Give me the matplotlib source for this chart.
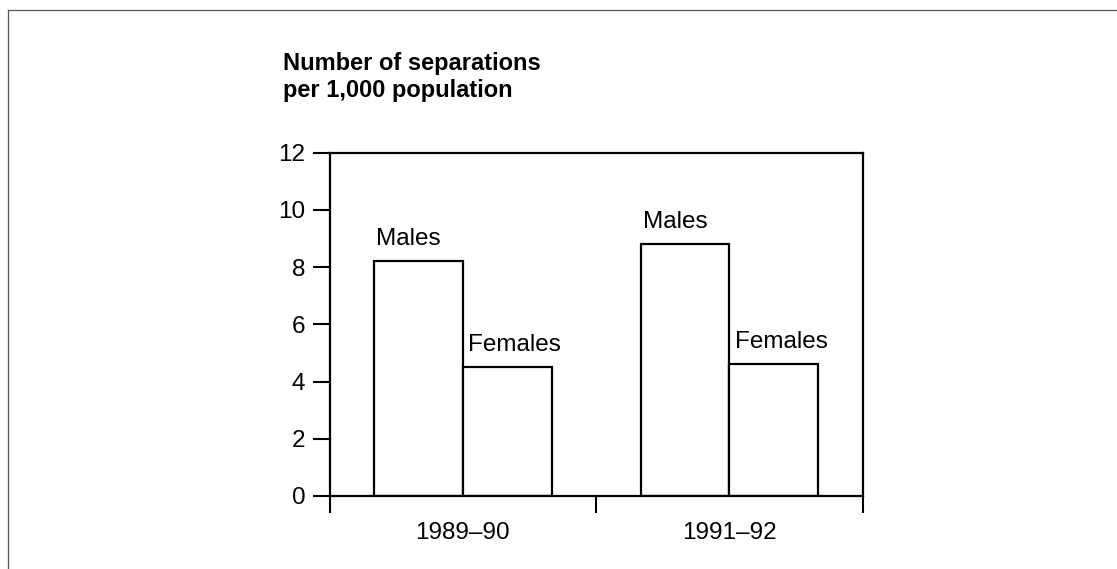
import matplotlib.pyplot as plt
from matplotlib.lines import Line2D

plt.rcParams["font.family"] = ["Liberation Sans", "DejaVu Sans"]

periods = ["1989–90", "1991–92"]
males = [8.2, 8.8]
females = [4.5, 4.6]

fig = plt.figure(figsize=(11.17, 5.69), dpi=100)
ax = fig.add_axes([0.295, 0.1283, 0.4773, 0.6033])

w = 1 / 3
for i, (m, f) in enumerate(zip(males, females)):
    ax.bar(i + 0.5 - w / 2, m, width=w, facecolor="white", edgecolor="black", linewidth=1.6)
    ax.bar(i + 0.5 + w / 2, f, width=w, facecolor="white", edgecolor="black", linewidth=1.6)
    ax.annotate("Males", xy=(i + 0.5 - w, m), xytext=(1.5, 12), textcoords="offset points",
                ha="left", va="baseline", fontsize=17.5)
    ax.annotate("Females", xy=(i + 0.5, f), xytext=(4, 12), textcoords="offset points",
                ha="left", va="baseline", fontsize=17.5)

ax.set_xlim(0, 2)
ax.set_ylim(0, 12)
ax.set_yticks(range(0, 13, 2))
ax.set_xticks([0, 1, 2])
ax.set_xticklabels([])
ax.set_xticks([0.5, 1.5], minor=True)
ax.set_xticklabels(periods, minor=True)

ax.tick_params(axis="y", direction="out", length=12.5, width=1.5, labelsize=17.5, pad=5)
ax.tick_params(axis="x", which="major", direction="out", length=12.5, width=1.5)
ax.tick_params(axis="x", which="minor", length=0, labelsize=17.5, pad=19)
for s in ax.spines.values():
    s.set_linewidth(1.6)

fig.text(0.2534, 0.9088, "Number of separations\nper 1,000 population",
         fontsize=17, fontweight="bold", ha="left", va="top", linespacing=1.25)

# thin frame lines at top and left
fig.add_artist(Line2D([0.0072, 1], [0.9824, 0.9824], color="#555555", linewidth=0.9))
fig.add_artist(Line2D([0.0072, 0.0072], [0, 0.9824], color="#555555", linewidth=0.9))

fig.savefig("out.png", dpi=100)
